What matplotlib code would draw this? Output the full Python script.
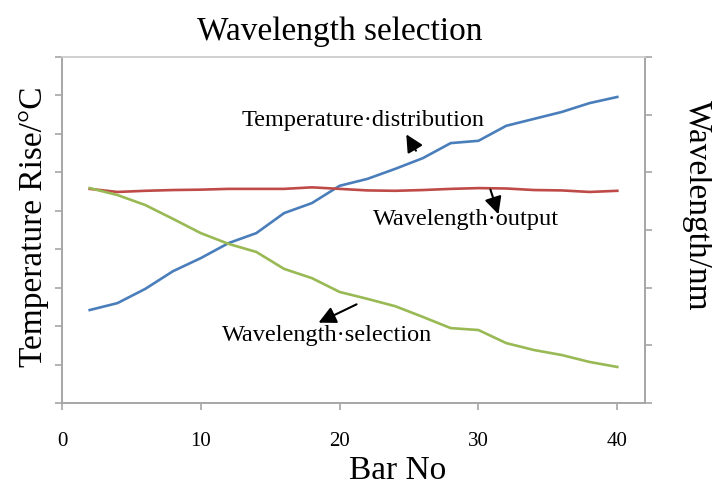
import matplotlib
matplotlib.use("Agg")
import matplotlib.pyplot as plt

# values (left axis in tick units 0..9)
bar_no = [2, 4, 6, 8, 10, 12, 14, 16, 18, 20, 22, 24, 26, 28, 30, 32, 34, 36, 38, 40]
temperature = [2.42, 2.60, 2.97, 3.43, 3.77, 4.16, 4.42, 4.94, 5.20, 5.65,
               5.83, 6.09, 6.37, 6.76, 6.82, 7.21, 7.39, 7.57, 7.80, 7.96]
wl_output = [5.57, 5.49, 5.52, 5.54, 5.55, 5.57, 5.57, 5.57, 5.61, 5.57,
             5.53, 5.52, 5.54, 5.57, 5.59, 5.58, 5.54, 5.53, 5.49, 5.52]
wl_selection = [5.59, 5.41, 5.15, 4.79, 4.42, 4.14, 3.93, 3.49, 3.25, 2.89,
                2.71, 2.52, 2.24, 1.95, 1.90, 1.56, 1.38, 1.25, 1.07, 0.94]

x_ticks = [0, 10, 20, 30, 40]

serif = ['Liberation Serif', 'DejaVu Serif']
plt.rcParams['font.family'] = serif

fig = plt.figure(figsize=(7.12, 4.91), dpi=100)
ax = fig.add_axes([0.087, 0.179, 0.819, 0.705])
ax2 = ax.twinx()

ax.plot(bar_no, temperature, color='#4a7ebb', lw=1.9)
ax.plot(bar_no, wl_output, color='#be4b48', lw=1.9)
ax.plot(bar_no, wl_selection, color='#98b954', lw=1.9)

ax.set_xlim(0, 42)
ax.set_ylim(0, 9)
ax2.set_ylim(0, 6)
ax.set_xticks(x_ticks)
ax.set_yticks(range(10))
ax.set_yticklabels([])
ax2.set_yticks(range(7))
ax2.set_yticklabels([])

for a in (ax, ax2):
    for s in a.spines.values():
        s.set_color('#a6a6a6')
        s.set_linewidth(1.2)
    a.tick_params(direction='out', length=5, width=1.2, color='#a6a6a6')
ax.spines['top'].set_color('#d0d0d0')
ax2.spines['top'].set_color('#d0d0d0')
ax.tick_params(axis='x', labelsize=15, pad=16)

ax.set_title('Wavelength selection', fontsize=24, pad=12, x=0.477)
ax.set_xlabel('Bar No', fontsize=24)
ax.xaxis.set_label_coords(0.575, -0.15)
ax.set_ylabel('Temperature Rise/°C', fontsize=24)
ax.yaxis.set_label_coords(-0.022, 0.51)
ax2.set_ylabel('Wavelength/nm', fontsize=24, rotation=-90, va='center')
ax2.yaxis.set_label_coords(1.09, 0.57)

# annotations
arrow = dict(arrowstyle='-|>', color='black', lw=1.5, mutation_scale=26)

ax.text(21.7, 7.36, 'Temperature\u00b7distribution', fontsize=17.5, ha='center', va='center')
ax.annotate('', xy=(24.7, 7.05), xytext=(25.6, 6.5), arrowprops=arrow)

ax.text(29.1, 4.78, 'Wavelength\u00b7output', fontsize=17.5, ha='center', va='center')
ax.annotate('', xy=(31.5, 4.84), xytext=(30.8, 5.62), arrowprops=arrow)

ax.text(19.1, 1.77, 'Wavelength\u00b7selection', fontsize=17.5, ha='center', va='center')
ax.annotate('', xy=(18.3, 2.06), xytext=(21.4, 2.60), arrowprops=arrow)

fig.savefig('out.png', dpi=100)
